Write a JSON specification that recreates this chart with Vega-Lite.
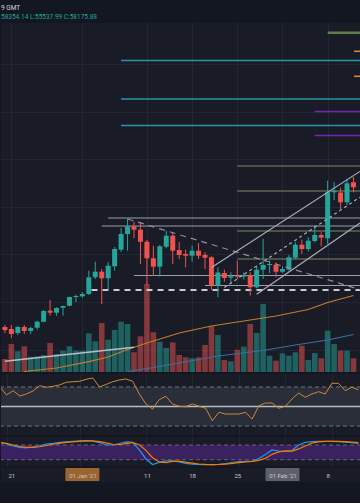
{
  "$schema": "https://vega.github.io/schema/vega-lite/v6.json",
  "background": "#131722",
  "padding": {"top": 5, "bottom": 21, "left": 0, "right": 0},
  "spacing": 2,
  "title": {
    "text": "9 GMT",
    "subtitle": "58354.14 L:55537.99 C:58175.88",
    "anchor": "start",
    "frame": "group",
    "font": "Roboto",
    "subtitleFont": "Roboto",
    "fontSize": 6.5,
    "subtitleFontSize": 6.5,
    "fontWeight": "normal",
    "color": "#d1d4dc",
    "subtitleColor": "#26a69a",
    "offset": 3,
    "subtitlePadding": 2
  },
  "datasets": {
    "candles": [
      {"date": "2020-12-20", "open": 23806, "high": 24142, "low": 22798, "close": 23302, "volume": 13000, "rsi": 70.0, "stochK": 91, "stochD": 90},
      {"date": "2020-12-21", "open": 23470, "high": 24142, "low": 21958, "close": 22630, "volume": 28000, "rsi": 61.8, "stochK": 84, "stochD": 87},
      {"date": "2020-12-22", "open": 22798, "high": 24000, "low": 22462, "close": 23806, "volume": 20700, "rsi": 66.2, "stochK": 76, "stochD": 80},
      {"date": "2020-12-23", "open": 23806, "high": 24142, "low": 22630, "close": 23134, "volume": 25700, "rsi": 60.8, "stochK": 70, "stochD": 74},
      {"date": "2020-12-24", "open": 23134, "high": 23856, "low": 22630, "close": 23638, "volume": 15300, "rsi": 62.8, "stochK": 68, "stochD": 70},
      {"date": "2020-12-25", "open": 23688, "high": 24864, "low": 23352, "close": 24696, "volume": 15700, "rsi": 65.9, "stochK": 72, "stochD": 70},
      {"date": "2020-12-26", "open": 24696, "high": 26662, "low": 24596, "close": 26494, "volume": 17000, "rsi": 71.3, "stochK": 77, "stochD": 73},
      {"date": "2020-12-27", "open": 26544, "high": 28342, "low": 25704, "close": 26208, "volume": 29000, "rsi": 69.7, "stochK": 84, "stochD": 78},
      {"date": "2020-12-28", "open": 26208, "high": 27116, "low": 25704, "close": 26998, "volume": 18000, "rsi": 70.7, "stochK": 87, "stochD": 83},
      {"date": "2020-12-29", "open": 27048, "high": 27400, "low": 25704, "close": 27334, "volume": 21300, "rsi": 72.1, "stochK": 91, "stochD": 87},
      {"date": "2020-12-30", "open": 27384, "high": 28896, "low": 27284, "close": 28846, "volume": 25700, "rsi": 74.8, "stochK": 93, "stochD": 91},
      {"date": "2020-12-31", "open": 28846, "high": 29232, "low": 28006, "close": 29014, "volume": 21300, "rsi": 75.4, "stochK": 95, "stochD": 93},
      {"date": "2021-01-01", "open": 28964, "high": 29686, "low": 28728, "close": 29350, "volume": 21300, "rsi": 75.8, "stochK": 97, "stochD": 95},
      {"date": "2021-01-02", "open": 29350, "high": 33264, "low": 29182, "close": 32156, "volume": 38700, "rsi": 77.9, "stochK": 97.5, "stochD": 96.5},
      {"date": "2021-01-03", "open": 32156, "high": 34776, "low": 31870, "close": 33096, "volume": 30700, "rsi": 79.2, "stochK": 96, "stochD": 97},
      {"date": "2021-01-04", "open": 33096, "high": 33550, "low": 27670, "close": 31988, "volume": 49000, "rsi": 70.0, "stochK": 90, "stochD": 94},
      {"date": "2021-01-05", "open": 31988, "high": 34726, "low": 30190, "close": 34104, "volume": 32300, "rsi": 72.6, "stochK": 80, "stochD": 89},
      {"date": "2021-01-06", "open": 34004, "high": 37246, "low": 33264, "close": 36910, "volume": 42000, "rsi": 75.4, "stochK": 80, "stochD": 83},
      {"date": "2021-01-07", "open": 36792, "high": 40438, "low": 36406, "close": 39430, "volume": 50300, "rsi": 77.2, "stochK": 86, "stochD": 82},
      {"date": "2021-01-08", "open": 39430, "high": 41950, "low": 36624, "close": 40724, "volume": 48000, "rsi": 78.2, "stochK": 93, "stochD": 86},
      {"date": "2021-01-09", "open": 40724, "high": 41496, "low": 38708, "close": 40152, "volume": 19700, "rsi": 75.8, "stochK": 91, "stochD": 90},
      {"date": "2021-01-10", "open": 40152, "high": 41396, "low": 34390, "close": 38136, "volume": 35700, "rsi": 62.8, "stochK": 60, "stochD": 81},
      {"date": "2021-01-11", "open": 38136, "high": 38422, "low": 30862, "close": 35348, "volume": 88000, "rsi": 52.6, "stochK": 23, "stochD": 58},
      {"date": "2021-01-12", "open": 35348, "high": 37464, "low": 32424, "close": 33936, "volume": 39700, "rsi": 47.4, "stochK": 0.4, "stochD": 28},
      {"date": "2021-01-13", "open": 33936, "high": 37582, "low": 32256, "close": 37364, "volume": 30300, "rsi": 57.0, "stochK": 9, "stochD": 11},
      {"date": "2021-01-14", "open": 37296, "high": 39984, "low": 37028, "close": 39144, "volume": 24000, "rsi": 60.5, "stochK": 15, "stochD": 8},
      {"date": "2021-01-15", "open": 39144, "high": 39716, "low": 34390, "close": 36624, "volume": 29700, "rsi": 52.6, "stochK": 15, "stochD": 13},
      {"date": "2021-01-16", "open": 36742, "high": 38086, "low": 35230, "close": 35902, "volume": 17000, "rsi": 50.2, "stochK": 11, "stochD": 14},
      {"date": "2021-01-17", "open": 36070, "high": 36792, "low": 33836, "close": 35784, "volume": 14700, "rsi": 49.8, "stochK": 5, "stochD": 10},
      {"date": "2021-01-18", "open": 35784, "high": 37464, "low": 34776, "close": 36624, "volume": 13700, "rsi": 52.6, "stochK": 2, "stochD": 6},
      {"date": "2021-01-19", "open": 36624, "high": 37918, "low": 35230, "close": 35784, "volume": 14700, "rsi": 50.2, "stochK": 0.4, "stochD": 2.5},
      {"date": "2021-01-20", "open": 35902, "high": 36356, "low": 33550, "close": 35448, "volume": 27000, "rsi": 48.2, "stochK": 0, "stochD": 1},
      {"date": "2021-01-21", "open": 35516, "high": 35684, "low": 30072, "close": 30778, "volume": 45700, "rsi": 35.4, "stochK": 0, "stochD": 0.2},
      {"date": "2021-01-22", "open": 30778, "high": 33836, "low": 28796, "close": 32962, "volume": 37000, "rsi": 44.1, "stochK": 1, "stochD": 0.4},
      {"date": "2021-01-23", "open": 32878, "high": 33432, "low": 31416, "close": 32038, "volume": 12000, "rsi": 42.3, "stochK": 4.5, "stochD": 2},
      {"date": "2021-01-24", "open": 32088, "high": 32996, "low": 31030, "close": 32324, "volume": 10700, "rsi": 42.3, "stochK": 8.6, "stochD": 5},
      {"date": "2021-01-25", "open": 32424, "high": 34944, "low": 31870, "close": 32256, "volume": 22300, "rsi": 42.3, "stochK": 12, "stochD": 8},
      {"date": "2021-01-26", "open": 32256, "high": 32996, "low": 31752, "close": 32542, "volume": 25300, "rsi": 44.1, "stochK": 13, "stochD": 11},
      {"date": "2021-01-27", "open": 32542, "high": 32996, "low": 29064, "close": 30476, "volume": 48000, "rsi": 37.2, "stochK": 13.5, "stochD": 13},
      {"date": "2021-01-28", "open": 30476, "high": 34104, "low": 30308, "close": 33432, "volume": 39000, "rsi": 50.8, "stochK": 25, "stochD": 17},
      {"date": "2021-01-29", "open": 33432, "high": 38590, "low": 31870, "close": 34222, "volume": 68000, "rsi": 53.6, "stochK": 41, "stochD": 26},
      {"date": "2021-01-30", "open": 34222, "high": 34944, "low": 32878, "close": 34390, "volume": 16300, "rsi": 53.6, "stochK": 60, "stochD": 42},
      {"date": "2021-01-31", "open": 34272, "high": 34676, "low": 32156, "close": 33096, "volume": 11300, "rsi": 48.2, "stochK": 55.5, "stochD": 52},
      {"date": "2021-02-01", "open": 33096, "high": 34004, "low": 32878, "close": 33550, "volume": 18700, "rsi": 50.2, "stochK": 53.5, "stochD": 56},
      {"date": "2021-02-02", "open": 33432, "high": 35902, "low": 33264, "close": 35516, "volume": 16300, "rsi": 57.7, "stochK": 57.5, "stochD": 55},
      {"date": "2021-02-03", "open": 35448, "high": 38036, "low": 35230, "close": 37632, "volume": 19700, "rsi": 63.8, "stochK": 80, "stochD": 64},
      {"date": "2021-02-04", "open": 37632, "high": 38472, "low": 36070, "close": 36910, "volume": 26300, "rsi": 59.4, "stochK": 91, "stochD": 76},
      {"date": "2021-02-05", "open": 36910, "high": 38876, "low": 36456, "close": 38304, "volume": 12000, "rsi": 62.8, "stochK": 94, "stochD": 88},
      {"date": "2021-02-06", "open": 38254, "high": 40942, "low": 38036, "close": 39262, "volume": 19000, "rsi": 65.2, "stochK": 95, "stochD": 93},
      {"date": "2021-02-07", "open": 39262, "high": 39716, "low": 37364, "close": 38808, "volume": 13700, "rsi": 62.8, "stochK": 95, "stochD": 95},
      {"date": "2021-02-08", "open": 38708, "high": 48384, "low": 37750, "close": 46436, "volume": 41300, "rsi": 73.8, "stochK": 95, "stochD": 95},
      {"date": "2021-02-09", "open": 46436, "high": 48166, "low": 45142, "close": 46704, "volume": 28000, "rsi": 73.8, "stochK": 94, "stochD": 95},
      {"date": "2021-02-10", "open": 46402, "high": 47242, "low": 43630, "close": 44756, "volume": 21300, "rsi": 66.2, "stochK": 92, "stochD": 93.5},
      {"date": "2021-02-11", "open": 44756, "high": 48670, "low": 44302, "close": 47948, "volume": 21300, "rsi": 69.7, "stochK": 90, "stochD": 92},
      {"date": "2021-02-12", "open": 48116, "high": 49006, "low": 46436, "close": 47276, "volume": 13700, "rsi": 67.2, "stochK": 87, "stochD": 90}
    ],
    "sma100": [
      {"date": "2020-12-23", "value": 16330},
      {"date": "2020-12-28", "value": 16918},
      {"date": "2021-01-02", "value": 17978},
      {"date": "2021-01-05", "value": 18766},
      {"date": "2021-01-08", "value": 20026},
      {"date": "2021-01-11", "value": 21118},
      {"date": "2021-01-13", "value": 21790},
      {"date": "2021-01-16", "value": 22798},
      {"date": "2021-01-21", "value": 23974},
      {"date": "2021-01-26", "value": 24814},
      {"date": "2021-01-31", "value": 25654},
      {"date": "2021-02-05", "value": 26746},
      {"date": "2021-02-08", "value": 27922},
      {"date": "2021-02-12", "value": 29098}
    ],
    "sma200": [
      {"date": "2021-01-08", "value": 16296},
      {"date": "2021-01-12", "value": 17002},
      {"date": "2021-01-16", "value": 17758},
      {"date": "2021-01-22", "value": 18934},
      {"date": "2021-01-29", "value": 19858},
      {"date": "2021-02-03", "value": 20782},
      {"date": "2021-02-08", "value": 21622},
      {"date": "2021-02-12", "value": 22546}
    ]
  },
  "vconcat": [
    {
      "width": 360,
      "height": 349,
      "encoding": {
        "x": {
          "field": "date", "type": "temporal", "title": null,
          "scale": {"type": "utc", "domain": [{"year": 2020, "month": 12, "date": 20, "hours": 4, "minutes": 5, "utc": true}, {"year": 2021, "month": 2, "date": 12, "hours": 9, "minutes": 22, "utc": true}]},
          "axis": {"grid": true, "labels": false, "ticks": false, "domain": false, "gridColor": "#232733",
            "values": [{"year": 2020, "month": 12, "date": 21, "utc": true}, {"year": 2021, "month": 1, "date": 1, "utc": true}, {"year": 2021, "month": 1, "date": 11, "utc": true}, {"year": 2021, "month": 1, "date": 18, "utc": true}, {"year": 2021, "month": 1, "date": 25, "utc": true}, {"year": 2021, "month": 2, "date": 1, "utc": true}, {"year": 2021, "month": 2, "date": 8, "utc": true}]}
        }
      },
      "layer": [
        {
          "data": {"name": "candles"},
          "mark": {"type": "bar", "width": 5.6, "opacity": 0.5, "clip": true},
          "encoding": {
            "y": {"field": "volume", "type": "quantitative", "title": null, "scale": {"domain": [0, 349000], "nice": false}, "axis": null},
            "color": {"condition": {"test": "datum.close >= datum.open", "value": "#26a69a"}, "value": "#ef5350"}
          }
        },
        {
          "layer": [
            {
              "data": {"name": "sma200"},
              "mark": {"type": "line", "color": "#3a6fa0", "strokeWidth": 1.2, "clip": true},
              "encoding": {
                "y": {"field": "value", "type": "quantitative", "title": null, "scale": {"domain": [16246, 74878], "nice": false, "zero": false},
                  "axis": {"grid": true, "labels": false, "ticks": false, "domain": false, "gridColor": "#232733", "values": [20000, 24000, 28000, 32000, 36000, 40000, 44000, 48000, 52000, 56000, 60000, 64000, 68000, 72000]}}
              }
            },
            {
              "data": {"values": [{}]},
              "mark": {"type": "rule", "color": "#9a6230", "strokeWidth": 2, "strokeDash": [8, 9]},
              "encoding": {"x": {"datum": {"year": 2021, "month": 1, "date": 1, "utc": true}, "type": "temporal"}}
            },
            {
              "data": {"values": [{}]},
              "mark": {"type": "rule", "color": "#3e424d", "strokeWidth": 1.5},
              "encoding": {"x": {"datum": {"year": 2021, "month": 2, "date": 1, "utc": true}, "type": "temporal"}}
            },
            {
              "data": {"name": "sma100"},
              "mark": {"type": "line", "color": "#c27d2c", "strokeWidth": 1.2, "clip": true},
              "encoding": {"y": {"field": "value", "type": "quantitative", "title": null, "scale": {"domain": [16246, 74878], "nice": false, "zero": false}}}
            },
            {
              "data": {"values": [{"date": "2020-12-20", "date2": "2021-01-09", "price": 18044, "price2": 20396}]},
              "mark": {"type": "rule", "color": "#b9bcc5", "strokeWidth": 1.5, "clip": true},
              "encoding": {
                "x2": {"field": "date2"},
                "y": {"field": "price", "type": "quantitative", "title": null, "scale": {"domain": [16246, 74878], "nice": false, "zero": false}},
                "y2": {"field": "price2"}
              }
            },
            {
              "data": {"values": [
                {"date": "2021-01-07", "date2": "2021-02-14", "price": 68578},
                {"date": "2021-01-07", "date2": "2021-02-14", "price": 62110},
                {"date": "2021-01-07", "date2": "2021-02-14", "price": 57658}
              ]},
              "mark": {"type": "rule", "color": "#2a93a6", "strokeWidth": 1.5, "clip": true},
              "encoding": {"x2": {"field": "date2"}, "y": {"field": "price", "type": "quantitative", "title": null, "scale": {"domain": [16246, 74878], "nice": false, "zero": false}}}
            },
            {
              "data": {"values": [
                {"date": "2021-02-06", "date2": "2021-02-14", "price": 60010},
                {"date": "2021-02-06", "date2": "2021-02-14", "price": 55978}
              ]},
              "mark": {"type": "rule", "color": "#7426b2", "strokeWidth": 1.5, "clip": true},
              "encoding": {"x2": {"field": "date2"}, "y": {"field": "price", "type": "quantitative", "title": null, "scale": {"domain": [16246, 74878], "nice": false, "zero": false}}}
            },
            {
              "data": {"values": [{"date": "2021-02-08", "date2": "2021-02-14", "price": 73232}]},
              "mark": {"type": "rule", "color": "#5e7f4a", "strokeWidth": 2.5, "clip": true},
              "encoding": {"x2": {"field": "date2"}, "y": {"field": "price", "type": "quantitative", "title": null, "scale": {"domain": [16246, 74878], "nice": false, "zero": false}}}
            },
            {
              "data": {"values": [
                {"date": "2021-02-12T02:00:00Z", "date2": "2021-02-14", "price": 70124},
                {"date": "2021-02-12T02:00:00Z", "date2": "2021-02-14", "price": 65924}
              ]},
              "mark": {"type": "rule", "color": "#e08a2a", "strokeWidth": 1.5, "clip": true},
              "encoding": {"x2": {"field": "date2"}, "y": {"field": "price", "type": "quantitative", "title": null, "scale": {"domain": [16246, 74878], "nice": false, "zero": false}}}
            },
            {
              "data": {"values": [
                {"date": "2021-01-25", "date2": "2021-02-14", "price": 50854},
                {"date": "2021-01-25", "date2": "2021-02-14", "price": 46654},
                {"date": "2021-01-25", "date2": "2021-02-14", "price": 39934},
                {"date": "2021-01-25", "date2": "2021-02-14", "price": 35230}
              ]},
              "mark": {"type": "rule", "color": "#7d8a63", "strokeWidth": 1.2, "clip": true},
              "encoding": {"x2": {"field": "date2"}, "y": {"field": "price", "type": "quantitative", "title": null, "scale": {"domain": [16246, 74878], "nice": false, "zero": false}}}
            },
            {
              "data": {"values": [
                {"date": "2021-01-05", "date2": "2021-02-14", "price": 42118},
                {"date": "2021-01-04", "date2": "2021-02-14", "price": 40774},
                {"date": "2021-01-09", "date2": "2021-02-14", "price": 32458},
                {"date": "2021-01-20", "date2": "2021-02-14", "price": 30778}
              ]},
              "mark": {"type": "rule", "color": "#9a9da6", "strokeWidth": 1.2, "clip": true},
              "encoding": {"x2": {"field": "date2"}, "y": {"field": "price", "type": "quantitative", "title": null, "scale": {"domain": [16246, 74878], "nice": false, "zero": false}}}
            },
            {
              "data": {"values": [{"date": "2021-01-02T10:00:00Z", "date2": "2021-02-14", "price": 30022}]},
              "mark": {"type": "rule", "color": "#c9cbd1", "strokeWidth": 2, "strokeDash": [6, 5], "clip": true},
              "encoding": {"x2": {"field": "date2"}, "y": {"field": "price", "type": "quantitative", "title": null, "scale": {"domain": [16246, 74878], "nice": false, "zero": false}}}
            },
            {
              "data": {"name": "candles"},
              "mark": {"type": "rule", "strokeWidth": 1, "clip": true},
              "encoding": {
                "y": {"field": "low", "type": "quantitative", "title": null, "scale": {"domain": [16246, 74878], "nice": false, "zero": false}},
                "y2": {"field": "high"},
                "color": {"condition": {"test": "datum.close >= datum.open", "value": "#26a69a"}, "value": "#ef5350"}
              }
            },
            {
              "data": {"name": "candles"},
              "mark": {"type": "bar", "width": 5, "clip": true},
              "encoding": {
                "y": {"field": "open", "type": "quantitative", "title": null, "scale": {"domain": [16246, 74878], "nice": false, "zero": false}},
                "y2": {"field": "close"},
                "color": {"condition": {"test": "datum.close >= datum.open", "value": "#26a69a"}, "value": "#ef5350"}
              }
            },
            {
              "data": {"values": [{"date": "2021-01-08", "date2": "2021-02-13", "price": 41950, "price2": 30106}]},
              "mark": {"type": "rule", "color": "#8c8f99", "strokeWidth": 1.2, "strokeDash": [6, 5], "clip": true},
              "encoding": {"x2": {"field": "date2"}, "y": {"field": "price", "type": "quantitative", "title": null, "scale": {"domain": [16246, 74878], "nice": false, "zero": false}}, "y2": {"field": "price2"}}
            },
            {
              "data": {"values": [
                {"date": "2021-01-21", "date2": "2021-02-13", "price": 33785, "price2": 49947},
                {"date": "2021-01-28", "date2": "2021-02-13", "price": 29300, "price2": 41278}
              ]},
              "mark": {"type": "rule", "color": "#a9acb5", "strokeWidth": 1.2, "clip": true},
              "encoding": {"x2": {"field": "date2"}, "y": {"field": "price", "type": "quantitative", "title": null, "scale": {"domain": [16246, 74878], "nice": false, "zero": false}}, "y2": {"field": "price2"}}
            },
            {
              "data": {"values": [{"date": "2021-01-23", "date2": "2021-02-13", "price": 30442, "price2": 45612}]},
              "mark": {"type": "rule", "color": "#a9acb5", "strokeWidth": 1.2, "strokeDash": [3, 3], "clip": true},
              "encoding": {"x2": {"field": "date2"}, "y": {"field": "price", "type": "quantitative", "title": null, "scale": {"domain": [16246, 74878], "nice": false, "zero": false}}, "y2": {"field": "price2"}}
            }
          ]
        }
      ],
      "resolve": {"scale": {"y": "independent"}}
    },
    {
      "width": 360,
      "height": 61,
      "layer": [
        {
          "data": {"values": [{}]},
          "mark": {"type": "rect", "color": "#2a2e39"},
          "encoding": {"y": {"datum": 70, "type": "quantitative", "scale": {"domain": [20.8, 83.3], "nice": false, "zero": false}, "axis": null}, "y2": {"datum": 30}}
        },
        {
          "data": {"values": [{"level": 70}, {"level": 30}]},
          "mark": {"type": "rule", "color": "#6e717b", "strokeWidth": 1, "strokeDash": [4, 3]},
          "encoding": {"y": {"field": "level", "type": "quantitative", "scale": {"domain": [20.8, 83.3], "nice": false, "zero": false}, "axis": null}}
        },
        {
          "data": {"values": [{"level": 50}]},
          "mark": {"type": "rule", "color": "#b8bbc4", "strokeWidth": 1.5},
          "encoding": {"y": {"field": "level", "type": "quantitative", "scale": {"domain": [20.8, 83.3], "nice": false, "zero": false}, "axis": null}}
        },
        {
          "data": {"name": "candles"},
          "mark": {"type": "line", "color": "#c98a35", "strokeWidth": 1, "clip": true},
          "encoding": {
            "x": {
              "field": "date", "type": "temporal", "title": null,
              "scale": {"type": "utc", "domain": [{"year": 2020, "month": 12, "date": 20, "hours": 4, "minutes": 5, "utc": true}, {"year": 2021, "month": 2, "date": 12, "hours": 9, "minutes": 22, "utc": true}]},
              "axis": {"grid": true, "labels": false, "ticks": false, "domain": false, "gridColor": "#232733",
                "values": [{"year": 2020, "month": 12, "date": 21, "utc": true}, {"year": 2021, "month": 1, "date": 1, "utc": true}, {"year": 2021, "month": 1, "date": 11, "utc": true}, {"year": 2021, "month": 1, "date": 18, "utc": true}, {"year": 2021, "month": 1, "date": 25, "utc": true}, {"year": 2021, "month": 2, "date": 1, "utc": true}, {"year": 2021, "month": 2, "date": 8, "utc": true}]}
            },
            "y": {"field": "rsi", "type": "quantitative", "title": null, "scale": {"domain": [20.8, 83.3], "nice": false, "zero": false}, "axis": null}
          }
        }
      ]
    },
    {
      "width": 360,
      "height": 29,
      "layer": [
        {
          "data": {"values": [{}]},
          "mark": {"type": "rect", "color": "#3a2160"},
          "encoding": {"y": {"datum": 80, "type": "quantitative", "scale": {"domain": [-5.7, 112.7], "nice": false, "zero": false}, "axis": null}, "y2": {"datum": 20}}
        },
        {
          "data": {"values": [{"level": 80}, {"level": 20}]},
          "mark": {"type": "rule", "color": "#6c5c86", "strokeWidth": 1, "strokeDash": [4, 3]},
          "encoding": {"y": {"field": "level", "type": "quantitative", "scale": {"domain": [-5.7, 112.7], "nice": false, "zero": false}, "axis": null}}
        },
        {
          "data": {"name": "candles"},
          "mark": {"type": "line", "color": "#2196f3", "strokeWidth": 1.2, "clip": true},
          "encoding": {
            "x": {
              "field": "date", "type": "temporal", "title": null,
              "scale": {"type": "utc", "domain": [{"year": 2020, "month": 12, "date": 20, "hours": 4, "minutes": 5, "utc": true}, {"year": 2021, "month": 2, "date": 12, "hours": 9, "minutes": 22, "utc": true}]},
              "axis": {"grid": true, "labels": false, "ticks": false, "domain": false, "gridColor": "#232733",
                "values": [{"year": 2020, "month": 12, "date": 21, "utc": true}, {"year": 2021, "month": 1, "date": 1, "utc": true}, {"year": 2021, "month": 1, "date": 11, "utc": true}, {"year": 2021, "month": 1, "date": 18, "utc": true}, {"year": 2021, "month": 1, "date": 25, "utc": true}, {"year": 2021, "month": 2, "date": 1, "utc": true}, {"year": 2021, "month": 2, "date": 8, "utc": true}]}
            },
            "y": {"field": "stochK", "type": "quantitative", "title": null, "scale": {"domain": [-5.7, 112.7], "nice": false, "zero": false}, "axis": null}
          }
        },
        {
          "data": {"name": "candles"},
          "mark": {"type": "line", "color": "#f57c00", "strokeWidth": 1.2, "clip": true},
          "encoding": {
            "x": {"field": "date", "type": "temporal", "title": null},
            "y": {"field": "stochD", "type": "quantitative", "title": null, "scale": {"domain": [-5.7, 112.7], "nice": false, "zero": false}, "axis": null}
          }
        }
      ]
    },
    {
      "width": 360,
      "height": 14,
      "data": {"values": [{"date": "2021-01-01", "tag": "origin"}, {"date": "2021-02-01", "tag": "cursor"}]},
      "mark": {"type": "bar", "width": 34, "cornerRadius": 1},
      "encoding": {
        "x": {
          "field": "date", "type": "temporal", "title": null,
          "scale": {"type": "utc", "domain": [{"year": 2020, "month": 12, "date": 20, "hours": 4, "minutes": 5, "utc": true}, {"year": 2021, "month": 2, "date": 12, "hours": 9, "minutes": 22, "utc": true}]},
          "axis": {"orient": "bottom", "offset": -14, "labels": true, "ticks": false, "domain": false, "grid": false, "zindex": 1,
            "labelBaseline": "middle", "labelPadding": 7, "labelFontSize": 6, "labelFont": "Roboto", "labelColor": "#c3c6ce",
            "labelOverlap": false, "labelFlush": false,
            "labelExpr": "utcdate(datum.value) == 1 ? utcFormat(datum.value, \"%d %b '%y\") : utcFormat(datum.value, '%-d')",
            "values": [{"year": 2020, "month": 12, "date": 21, "utc": true}, {"year": 2021, "month": 1, "date": 1, "utc": true}, {"year": 2021, "month": 1, "date": 11, "utc": true}, {"year": 2021, "month": 1, "date": 18, "utc": true}, {"year": 2021, "month": 1, "date": 25, "utc": true}, {"year": 2021, "month": 2, "date": 1, "utc": true}, {"year": 2021, "month": 2, "date": 8, "utc": true}]}
        },
        "y": {"datum": 14, "type": "quantitative", "scale": {"domain": [0, 14], "nice": false}, "axis": null},
        "y2": {"datum": 1},
        "color": {"field": "tag", "type": "nominal", "scale": {"domain": ["origin", "cursor"], "range": ["#9c642f", "#5d606b"]}, "legend": null}
      }
    }
  ],
  "config": {
    "font": "Roboto",
    "view": {"stroke": null, "fill": "#191c27"},
    "axis": {"labels": false, "ticks": false, "domain": false, "grid": false, "gridColor": "#232733"}
  }
}
